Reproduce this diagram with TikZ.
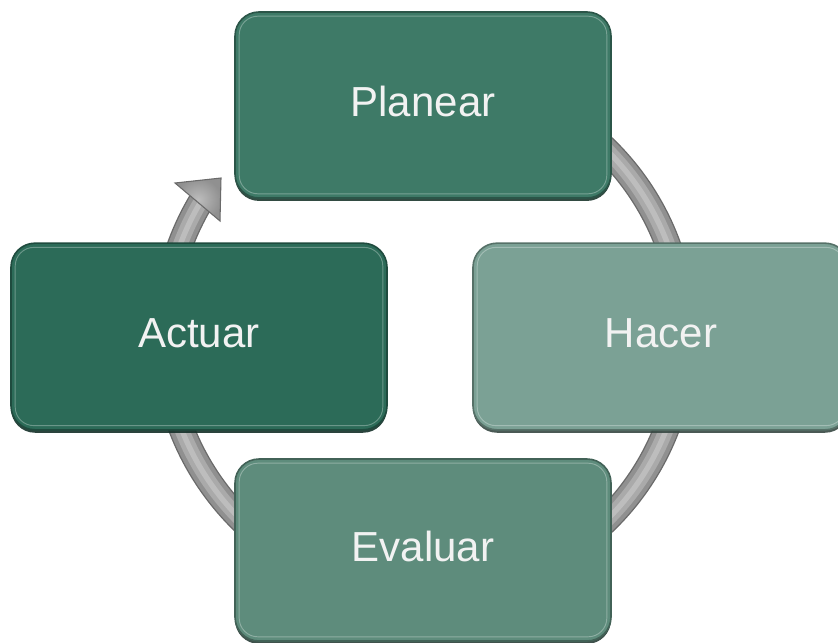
\documentclass[tikz,border=0pt]{standalone}
\usepackage{fontspec}
\setmainfont{Liberation Sans}
\usetikzlibrary{shadows}
\definecolor{cplan}{HTML}{3E7A67}
\definecolor{chacer}{HTML}{7BA195}
\definecolor{cactuar}{HTML}{2C6B58}
\definecolor{ceval}{HTML}{5E8C7C}
\definecolor{txt}{HTML}{F2F2F2}
\definecolor{ringdark}{HTML}{6A6A6A}
\definecolor{ringmid}{HTML}{909090}
\definecolor{ringlight}{HTML}{AAAAAA}
\definecolor{ringtop}{HTML}{BDBDBD}
\begin{document}
\begin{tikzpicture}[x=0.75pt,y=-0.75pt,
  box/.style={rectangle, rounded corners=18pt, minimum width=282pt, minimum height=139.5pt,
    draw=#1!70!black, line width=1.2pt, fill=#1, text=txt, inner sep=0pt,
    text depth=5pt,
    font=\fontsize{31.5}{36}\selectfont,
    drop shadow={shadow xshift=0pt, shadow yshift=-2.2pt, fill=#1!45!black, opacity=0.9}},
  hilite/.style={draw=white, opacity=0.3, line width=0.7pt, rounded corners=14pt},
  ring/.style={line cap=butt}
]
\useasboundingbox (0,0) rectangle (838,642);
% ring
\coordinate (c) at (424,335);
\foreach \w/\col in {19.5pt/ringdark, 17.5pt/ringmid, 11pt/ringlight, 4pt/ringtop}
  \draw[ring, line width=\w, \col] (c) ++(-85:260) arc[start angle=-85, end angle=210.7, radius=260];
% arrow head
\coordinate (tip) at (221,178);
\coordinate (h1) at (175,183);
\coordinate (h2) at (220,221);
\shade[inner color=ringtop, outer color=ringmid, draw=ringdark, line width=0.8pt, line join=miter]
  (tip) -- (h1) -- (h2) -- cycle;
% boxes
\node[box=cplan,   minimum height=139.5pt] (plan)   at (423,105)   {Planear};
\node[box=chacer,  minimum height=140pt]   (hacer)  at (661,336.5) {Hacer};
\node[box=cactuar, minimum height=140pt]   (actuar) at (199,336.5) {Actuar};
\node[box=ceval,   minimum height=136.5pt] (eval)   at (423,550)   {Evaluar};
\foreach \n in {plan,hacer,actuar,eval}
  \draw[hilite] ([shift={(5,5)}]\n.north west) rectangle ([shift={(-5,-5)}]\n.south east);
\end{tikzpicture}
\end{document}
